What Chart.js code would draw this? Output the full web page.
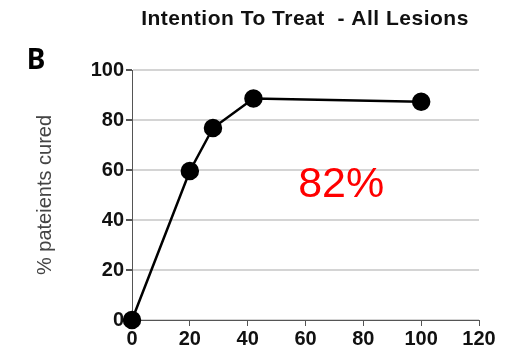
<!DOCTYPE html>
<html>
<head>
<meta charset="utf-8">
<script src="https://cdn.jsdelivr.net/npm/chart.js@4.4.1/dist/chart.umd.min.js"></script>
<style>
  html, body { margin: 0; padding: 0; background: #fff; }
  #wrap { width: 523px; height: 347px; position: relative; }
</style>
</head>
<body>
<div id="wrap"><canvas id="cure_chart"></canvas></div>
<script>
// values
const xValues = [0, 20, 28, 42, 100];
const curedPct = [0, 59.6, 76.8, 88.6, 87.3];
const xTicks = [0, 20, 40, 60, 80, 100, 120];
const yTicks = [0, 20, 40, 60, 80, 100];
const chartTitle = "Intention To Treat  - All Lesions";
const panelLabel = "B";
const yLabel = "% pateients cured";
const overallText = "82%";

// title, panel letter and the red 82% are drawn on top of the chart
const textPlugin = {
  id: "extraText",
  afterDraw(chart) {
    const c = chart.ctx;
    const area = chart.chartArea;
    c.save();
    c.textAlign = "center";
    c.textBaseline = "middle";
    c.fillStyle = "#111";
    c.font = "bold 21px 'Liberation Sans'";
    c.letterSpacing = "0.5px";
    c.fillText(chartTitle, 305, 19);
    c.letterSpacing = "0px";
    c.fillStyle = "#000";
    c.font = "bold 28px 'Noto Sans'";
    c.fillText(panelLabel, 36, 61);
    c.fillStyle = "#ff0000";
    c.font = "43px 'Liberation Sans'";
    c.fillText(overallText, area.left + (area.right - area.left) * 0.603, area.top + (area.bottom - area.top) * 0.46);
    c.restore();
  }
};

const points = xValues.map((x, i) => ({ x: x, y: curedPct[i] }));

new Chart(document.getElementById("cure_chart").getContext("2d"), {
  type: "scatter",
  data: {
    datasets: [{
      data: points,
      showLine: true,
      borderColor: "#000",
      borderWidth: 2.5,
      backgroundColor: "#000",
      pointRadius: 8,
      pointHoverRadius: 8,
      clip: false,
    }],
  },
  plugins: [textPlugin],
  options: {
    responsive: true,
    maintainAspectRatio: false,
    animation: false,
    layout: { padding: { left: 0, right: 44, top: 70, bottom: 0 } },
    plugins: {
      legend: { display: false },
      tooltip: { enabled: false },
      title: { display: false },
    },
    scales: {
      x: {
        type: "linear",
        min: 0,
        max: 120,
        afterBuildTicks(scale) { scale.ticks = xTicks.map(v => ({ value: v })); },
        afterFit(scale) { scale.height = 27; },
        grid: { drawOnChartArea: false, drawTicks: true, tickLength: 6, tickColor: "#555" },
        border: { color: "#555", width: 1 },
        ticks: {
          color: "#111",
          padding: 1,
          font: { family: "'Liberation Sans'", size: 20, weight: "bold" },
        },
      },
      y: {
        min: 0,
        max: 100,
        afterBuildTicks(scale) { scale.ticks = yTicks.map(v => ({ value: v })); },
        afterFit(scale) { scale.width = 132; },
        grid: { color: "#d4d4d4", lineWidth: 2, tickLength: 6, tickColor: "#555" },
        border: { color: "#555", width: 1 },
        ticks: {
          color: "#111",
          padding: 2,
          font: { family: "'Liberation Sans'", size: 20, weight: "bold" },
        },
        title: {
          display: true,
          text: yLabel,
          color: "#444",
          padding: { top: 33 },
          font: { family: "'Liberation Sans'", size: 20 },
        },
      },
    },
  },
});
</script>
</body>
</html>
